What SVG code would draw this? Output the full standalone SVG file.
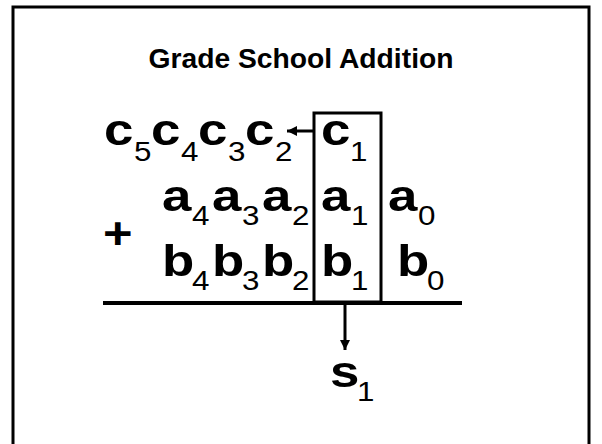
<svg xmlns="http://www.w3.org/2000/svg" width="602" height="444" viewBox="0 0 602 444">
<style>
text{font-family:"Liberation Sans",Arial,sans-serif;fill:#000}
.t{font-size:28px;font-weight:bold}
.m{font-size:44px;font-weight:bold}
.s{font-size:28px}
.ln{stroke:#000;fill:none}
</style>
<defs>
<marker id="ah" viewBox="0 0 10 10" refX="10" refY="5" markerWidth="10" markerHeight="10" markerUnits="userSpaceOnUse" orient="auto">
<path d="M0,0 L10,5 L0,10 z" fill="#000"/>
</marker>
</defs>
<rect x="13" y="7" width="576" height="460" class="ln" stroke-width="3"/>
<g id="title"><text class="t" x="301" y="68" text-anchor="middle" textLength="305" lengthAdjust="spacingAndGlyphs">Grade School Addition</text></g>
<g id="box"><rect x="314" y="113" width="67" height="189" class="ln" stroke-width="3"/></g>
<g id="sumline"><line x1="103" y1="303" x2="462" y2="303" class="ln" stroke-width="4"/></g>
<g id="carries">
<text class="m" transform="translate(104 145) scale(1.2 1)">c</text><text class="s" transform="translate(134 161) scale(1.12 1)">5</text>
<text class="m" transform="translate(151 145) scale(1.2 1)">c</text><text class="s" transform="translate(181 161) scale(1.12 1)">4</text>
<text class="m" transform="translate(198 145) scale(1.2 1)">c</text><text class="s" transform="translate(228 161) scale(1.12 1)">3</text>
<text class="m" transform="translate(245 145) scale(1.2 1)">c</text><text class="s" transform="translate(275 161) scale(1.12 1)">2</text>
</g>
<g id="c1"><text class="m" transform="translate(321 145) scale(1.2 1)">c</text><text class="s" transform="translate(350 161) scale(1.12 1)">1</text></g>
<g id="plus"><text class="m" transform="translate(103 249) scale(1.15 1)" font-size="48">+</text></g>
<g id="arow">
<text class="m" transform="translate(162 211) scale(1.2 1)">a</text><text class="s" transform="translate(192 225) scale(1.12 1)">4</text>
<text class="m" transform="translate(212 211) scale(1.2 1)">a</text><text class="s" transform="translate(242 225) scale(1.12 1)">3</text>
<text class="m" transform="translate(262 211) scale(1.2 1)">a</text><text class="s" transform="translate(292 225) scale(1.12 1)">2</text>
</g>
<g id="a1"><text class="m" transform="translate(321 211) scale(1.2 1)">a</text><text class="s" transform="translate(351 225) scale(1.12 1)">1</text></g>
<g id="a0"><text class="m" transform="translate(388 211) scale(1.2 1)">a</text><text class="s" transform="translate(418 225) scale(1.12 1)">0</text></g>
<g id="brow">
<text class="m" transform="translate(162 276) scale(1.2 1)">b</text><text class="s" transform="translate(192 290) scale(1.12 1)">4</text>
<text class="m" transform="translate(212 276) scale(1.2 1)">b</text><text class="s" transform="translate(242 290) scale(1.12 1)">3</text>
<text class="m" transform="translate(262 276) scale(1.2 1)">b</text><text class="s" transform="translate(292 290) scale(1.12 1)">2</text>
</g>
<g id="b1"><text class="m" transform="translate(321 276) scale(1.2 1)">b</text><text class="s" transform="translate(351 290) scale(1.12 1)">1</text></g>
<g id="b0"><text class="m" transform="translate(397 276) scale(1.2 1)">b</text><text class="s" transform="translate(427 290) scale(1.12 1)">0</text></g>
<g id="s1"><text class="m" transform="translate(330 387) scale(1.2 1)">s</text><text class="s" transform="translate(357 401) scale(1.12 1)">1</text></g>
<g id="connectors">
<line x1="314" y1="131" x2="287" y2="131" class="ln" stroke-width="3" marker-end="url(#ah)"/>
<line x1="345" y1="305" x2="345" y2="350" class="ln" stroke-width="3" marker-end="url(#ah)"/>
</g>
</svg>
